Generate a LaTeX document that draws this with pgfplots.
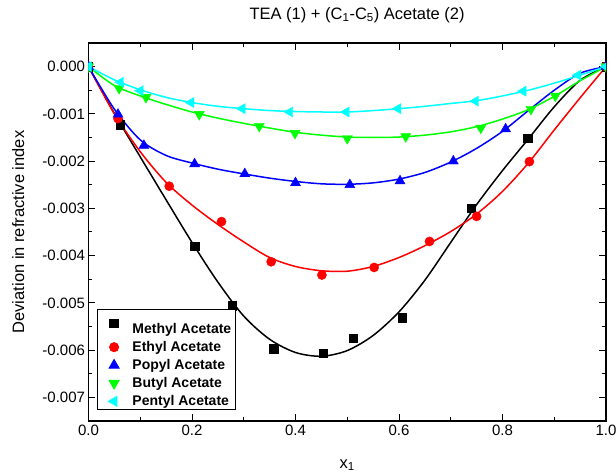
\documentclass[border=0pt]{standalone}
\usepackage{pgfplots}
\pgfplotsset{compat=1.18}
\usepackage{fontspec}
\setmainfont{Liberation Sans}
\definecolor{mgreen}{RGB}{0,255,0}
\definecolor{mcyan}{RGB}{0,255,255}
\definecolor{mred}{RGB}{255,0,0}
\definecolor{mblue}{RGB}{0,0,255}
\begin{document}
\begin{tikzpicture}[x=1pt,y=1pt]
\useasboundingbox (0,0) rectangle (616,476);
\begin{axis}[
  at={(88.5pt,55pt)}, anchor=south west,
  width=517.5pt, height=378pt, scale only axis,
  xmin=0, xmax=1, ymin=-0.0075, ymax=0.0005,
  xtick={0,0.2,0.4,0.6,0.8,1},
  ytick={-0.007,-0.006,-0.005,-0.004,-0.003,-0.002,-0.001,0},
  minor x tick num=1, minor y tick num=1,
  tick align=inside,
  major tick length=7pt, minor tick length=4pt,
  axis line style={line width=1.2pt},
  every tick/.style={line width=1pt, black},
  scaled y ticks=false,
  /pgf/number format/assume math mode=true,
  yticklabel style={/pgf/number format/.cd, fixed, fixed zerofill, precision=3},
  xticklabel style={/pgf/number format/.cd, fixed, fixed zerofill, precision=1},
  every tick label/.append style={font=\fontsize{15}{17}\selectfont},
  clip marker paths=true,
  title={TEA (1) + (C\textsubscript{1}-C\textsubscript{5}) Acetate (2)},
  title style={at={(0.519,1.058)}, anchor=center, font=\fontsize{16.5}{19}\selectfont},
  xlabel={x\textsubscript{1}},
  xlabel style={at={(0.5,-0.1164)}, anchor=center, font=\fontsize{16.5}{19}\selectfont},
  ylabel={Deviation in refractive index},
  ylabel style={at={(-0.136,0.5)}, anchor=center, font=\fontsize{16.5}{19}\selectfont},
  legend style={at={(0.017,0.029)}, anchor=south west, draw=black, line width=0.8pt,
    font=\bfseries\fontsize{14}{16}\selectfont, row sep=2.4pt, inner xsep=2pt, inner ysep=0.5pt,
    /tikz/every odd column/.append style={column sep=2pt}},
  legend cell align=left,
  legend image code/.code={\path (0pt,0pt) (28pt,0pt); \draw[#1] plot coordinates {(14pt,0pt)};},
]
% fitted curves
\addplot[black, line width=1.5pt, smooth, forget plot] coordinates {
(0,0) (0.05,-0.00099) (0.10,-0.00191) (0.15,-0.00282) (0.20,-0.00372) (0.25,-0.00456)
(0.30,-0.00528) (0.35,-0.00577) (0.40,-0.00605) (0.45,-0.00613) (0.50,-0.00601)
(0.55,-0.00569) (0.60,-0.00519) (0.65,-0.00452) (0.70,-0.00372) (0.75,-0.00292)
(0.80,-0.00220) (0.85,-0.00153) (0.90,-0.00085) (0.95,-0.00029) (1,0)};
\addplot[mred, line width=1.5pt, smooth, forget plot] coordinates {
(0,0) (0.05,-0.00100) (0.10,-0.00180) (0.15,-0.00245) (0.20,-0.00293) (0.25,-0.00334)
(0.30,-0.00371) (0.35,-0.00404) (0.40,-0.00423) (0.45,-0.00432) (0.50,-0.00433)
(0.55,-0.00423) (0.60,-0.00404) (0.65,-0.00379) (0.70,-0.00349) (0.75,-0.00312)
(0.80,-0.00264) (0.85,-0.00204) (0.90,-0.00134) (0.95,-0.00066) (1,0)};
\addplot[mblue, line width=1.5pt, smooth, forget plot] coordinates {
(0,0) (0.05,-0.00090) (0.10,-0.00155) (0.15,-0.00188) (0.20,-0.00204) (0.25,-0.00217)
(0.30,-0.00227) (0.35,-0.00236) (0.40,-0.00243) (0.45,-0.00248) (0.50,-0.00249)
(0.55,-0.00246) (0.60,-0.00238) (0.65,-0.00224) (0.70,-0.00202) (0.75,-0.00173)
(0.80,-0.00137) (0.85,-0.00093) (0.90,-0.00050) (0.95,-0.00014) (1,0)};
\addplot[mgreen, line width=1.5pt, smooth, forget plot] coordinates {
(0,0) (0.05,-0.00040) (0.10,-0.00062) (0.15,-0.00080) (0.20,-0.00096) (0.25,-0.00109)
(0.30,-0.00120) (0.35,-0.00130) (0.40,-0.00139) (0.45,-0.00145) (0.50,-0.00149)
(0.55,-0.00150) (0.60,-0.00149) (0.65,-0.00145) (0.70,-0.00138) (0.75,-0.00127)
(0.80,-0.00111) (0.85,-0.00091) (0.90,-0.00063) (0.95,-0.00030) (1,0)};
\addplot[mcyan, line width=1.5pt, smooth, forget plot] coordinates {
(0,0) (0.05,-0.00028) (0.10,-0.00049) (0.15,-0.00065) (0.20,-0.00076) (0.25,-0.00084)
(0.30,-0.00089) (0.35,-0.00093) (0.40,-0.00095) (0.45,-0.00096) (0.50,-0.00096)
(0.55,-0.00093) (0.60,-0.00089) (0.65,-0.00084) (0.70,-0.00078) (0.75,-0.00072)
(0.80,-0.00062) (0.85,-0.00050) (0.90,-0.00035) (0.95,-0.00018) (1,0)};
% data points
\addplot[only marks, mark=square*, mark size=4.2pt, mark options={fill=black, draw=black}] coordinates {
(0,0) (0.061,-0.00123) (0.205,-0.00380) (0.278,-0.00506) (0.358,-0.00597) (0.453,-0.00606)
(0.511,-0.00575) (0.606,-0.00531) (0.740,-0.00300) (0.849,-0.00151) (1,0)};
\addlegendentry{\rule{0pt}{22pt}Methyl Acetate}
\addplot[only marks, mark=*, mark size=4.6pt, mark options={fill=mred, draw=mred}] coordinates {
(0,0) (0.057,-0.00110) (0.156,-0.00253) (0.257,-0.00328) (0.353,-0.00413) (0.451,-0.00441)
(0.552,-0.00425) (0.659,-0.00370) (0.750,-0.00317) (0.852,-0.00201) (1,0)};
\addlegendentry{Ethyl Acetate}
\addplot[only marks, mark=triangle*, mark size=5.8pt, mark options={fill=mblue, draw=mblue}] coordinates {
(0,0) (0.057,-0.00101) (0.107,-0.00167) (0.205,-0.00206) (0.302,-0.00227) (0.400,-0.00246)
(0.505,-0.00250) (0.602,-0.00242) (0.705,-0.00200) (0.806,-0.00132) (1,0)};
\addlegendentry{Popyl Acetate}
\addplot[only marks, mark=triangle*, mark size=5.8pt, mark options={fill=mgreen, draw=mgreen, rotate=180}] coordinates {
(0,0) (0.059,-0.00046) (0.111,-0.00065) (0.214,-0.00101) (0.330,-0.00126) (0.399,-0.00141)
(0.500,-0.00152) (0.613,-0.00148) (0.758,-0.00130) (0.855,-0.00090) (0.902,-0.00062) (1,0)};
\addlegendentry{Butyl Acetate}
\addplot[only marks, mark=triangle*, mark size=5.8pt, mark options={fill=mcyan, draw=mcyan, rotate=90}] coordinates {
(0,0) (0.062,-0.00033) (0.100,-0.00051) (0.198,-0.00076) (0.297,-0.00089) (0.389,-0.00096)
(0.498,-0.00096) (0.598,-0.00089) (0.748,-0.00073) (0.840,-0.00052) (0.946,-0.00018) (1,0)};
\addlegendentry{Pentyl Acetate}
\end{axis}
\end{tikzpicture}
\end{document}
